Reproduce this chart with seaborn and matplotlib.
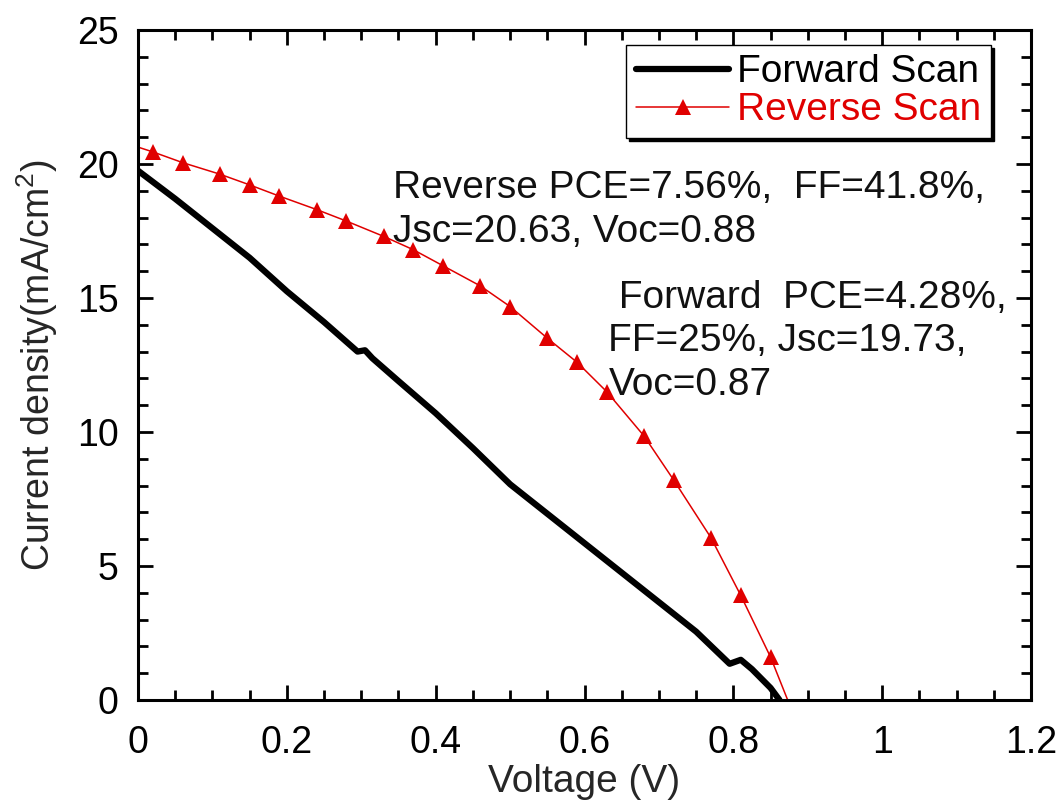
import matplotlib
matplotlib.use("Agg")
import matplotlib.pyplot as plt
from matplotlib.ticker import MultipleLocator
import seaborn as sns
import pandas as pd

# J-V data
forward_v = [0.00, 0.05, 0.10, 0.15, 0.20, 0.25, 0.295, 0.305, 0.315, 0.35, 0.40, 0.45,
             0.50, 0.55, 0.60, 0.65, 0.70, 0.75, 0.795, 0.81, 0.825, 0.85, 0.862]
forward_j = [19.75, 18.7, 17.6, 16.5, 15.25, 14.1, 13.0, 13.05, 12.75, 11.9, 10.7, 9.4,
             8.05, 6.95, 5.85, 4.75, 3.65, 2.55, 1.35, 1.5, 1.15, 0.45, 0.0]

reverse_v = [0.00, 0.02, 0.06, 0.11, 0.15, 0.19, 0.24, 0.28, 0.33, 0.37, 0.41, 0.46,
             0.50, 0.55, 0.59, 0.63, 0.68, 0.72, 0.77, 0.81, 0.85, 0.873]
reverse_j = [20.63, 20.45, 20.05, 19.62, 19.22, 18.8, 18.3, 17.87, 17.3, 16.8, 16.2, 15.45,
             14.68, 13.5, 12.6, 11.5, 9.85, 8.2, 6.05, 3.9, 1.6, 0.0]

reverse_note = ["Reverse PCE=7.56%,  FF=41.8%,", "Jsc=20.63, Voc=0.88"]
forward_note = [" Forward  PCE=4.28%,", "FF=25%, Jsc=19.73,", "Voc=0.87"]

sns.set_theme(style="ticks")
plt.rcParams["font.family"] = ["Liberation Sans", "DejaVu Sans"]
plt.rcParams["mathtext.fontset"] = "custom"
plt.rcParams["mathtext.rm"] = "Liberation Sans"

df_fwd = pd.DataFrame({"V": forward_v, "J": forward_j})
df_rev = pd.DataFrame({"V": reverse_v, "J": reverse_j})

fig = plt.figure(figsize=(10.57, 8.02), dpi=100)
ax = fig.add_axes([0.1306, 0.1272, 0.8448, 0.8354])

sns.lineplot(data=df_fwd, x="V", y="J", ax=ax, color="black", linewidth=4.5,
             sort=False, estimator=None, label="Forward Scan")
sns.lineplot(data=df_rev, x="V", y="J", ax=ax, color="#e00000", linewidth=1.1,
             marker="^", markersize=11, markeredgewidth=0, markevery=slice(1, -1),
             sort=False, estimator=None, label="Reverse Scan")

ax.set_xlim(0, 1.2)
ax.set_ylim(0, 25)
ax.xaxis.set_minor_locator(MultipleLocator(0.05))
ax.yaxis.set_major_locator(MultipleLocator(5))
ax.yaxis.set_minor_locator(MultipleLocator(1))
ax.set_xticks([0, 0.2, 0.4, 0.6, 0.8, 1.0, 1.2])
ax.set_xticklabels(["0", "0.2", "0.4", "0.6", "0.8", "1", "1.2"])

for s in ax.spines.values():
    s.set_linewidth(2.2)
    s.set_color("black")
ax.tick_params(which="both", direction="in", top=True, right=True, width=2, colors="black")
ax.tick_params(which="major", length=11, labelsize=27, pad=18)
ax.tick_params(which="minor", length=7)
ax.tick_params(axis="y", which="major", pad=14)

ax.set_xlabel("Voltage (V)", fontsize=28, labelpad=2)
ax.set_ylabel("Current density(mA/cm$^2$)", fontsize=27, labelpad=12)

for i, line in enumerate(reverse_note):
    ax.text(0.343, 19.1 - i * 1.64, line, fontsize=28, va="center", ha="left", color="#111111")
for i, line in enumerate(forward_note):
    ax.text(0.632, 15.0 - i * 1.62, line, fontsize=28, va="center", ha="left", color="#111111")

leg = ax.legend(loc="upper right", bbox_to_anchor=(0.955, 0.978), borderaxespad=0,
                fontsize=28, fancybox=False, edgecolor="black", framealpha=1,
                shadow={"color": "black", "alpha": 1}, handlelength=2.4,
                labelspacing=0.05, borderpad=0.25, handletextpad=0.2, labelcolor="linecolor")
leg.get_frame().set_linewidth(1.0)

fig.savefig("out.png", dpi=100)
